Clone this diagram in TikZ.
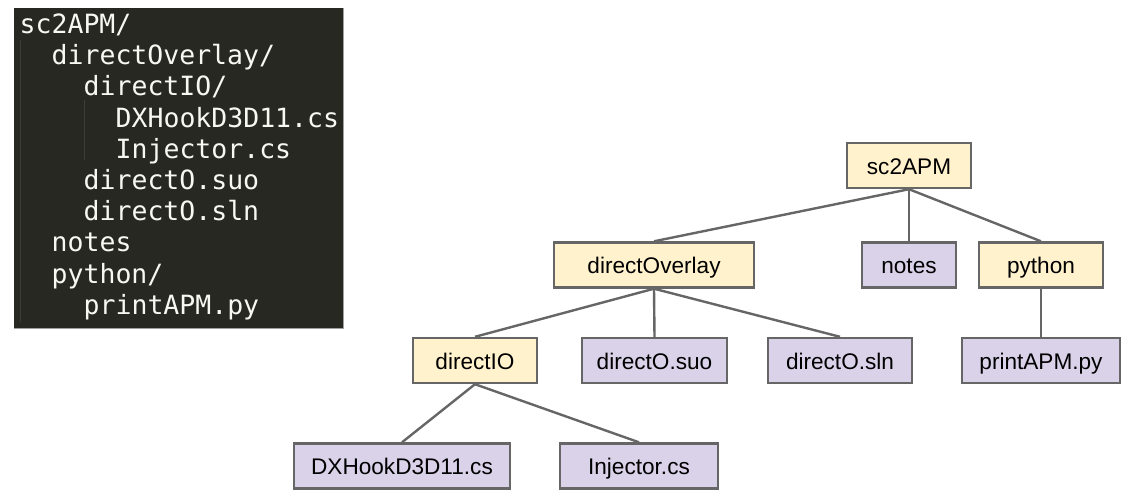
\documentclass[tikz,border=0pt]{standalone}
\usepackage{fontspec}
\setmainfont{Liberation Sans}
\newfontfamily\codefont{DejaVu Sans Mono}
\definecolor{monobg}{HTML}{272822}
\definecolor{monofg}{HTML}{F8F8F2}
\definecolor{guidecol}{HTML}{3E3D35}
\definecolor{panelrim}{HTML}{A0A0A0}
\definecolor{dirfill}{HTML}{FFF2CC}
\definecolor{filefill}{HTML}{D9D2E9}
\definecolor{edgecol}{HTML}{666666}
\begin{document}
\begin{tikzpicture}[x=1pt,y=-1pt,
  box/.style={draw=edgecol, line width=2.4pt, inner sep=0pt, minimum height=45pt,
    text height=20pt, text depth=3pt, font=\fontsize{22.6}{26}\selectfont, text=black},
  dirbox/.style={box, fill=dirfill},
  filebox/.style={box, fill=filefill},
  link/.style={draw=edgecol, line width=2.4pt},
  codeline/.style={anchor=base west, inner sep=0pt, text=monofg,
    font=\codefont\fontsize{26.5}{31}\selectfont},
]
\useasboundingbox (0,0) rectangle (1136,496);

% code panel
\fill[monobg] (14,8) rectangle (343,328);
\draw[panelrim, line width=1pt] (343,8) -- (343,328) -- (14,328);
\draw[guidecol, line width=1pt] (20.5,40) -- (20.5,322);
\draw[guidecol, line width=1pt] (84.5,100) -- (84.5,160);

\node[codeline] (c0) at (19.5,33.5) {sc2APM/};
\node[codeline] (c1) at (51.5,64.7) {directOverlay/};
\node[codeline] (c2) at (83.5,95.9) {directIO/};
\node[codeline] (c3) at (115.5,127.1) {DXHookD3D11.cs};
\node[codeline] (c4) at (115.5,158.3) {Injector.cs};
\node[codeline] (c5) at (83.5,189.5) {directO.suo};
\node[codeline] (c6) at (83.5,220.7) {directO.sln};
\node[codeline] (c7) at (51.5,251.9) {notes};
\node[codeline] (c8) at (51.5,283.1) {python/};
\node[codeline] (c9) at (83.5,314.3) {printAPM.py};

% tree
\node[dirbox, minimum width=123.6pt] (root) at (909,165.5) {sc2APM};
\node[dirbox, minimum width=199.6pt] (overlay) at (654,265) {directOverlay};
\node[filebox, minimum width=93.6pt] (notes) at (909,265) {notes};
\node[dirbox, minimum width=123.6pt] (python) at (1041,265) {python};
\node[dirbox, minimum width=123.6pt] (dio) at (475,360.5) {directIO};
\node[filebox, minimum width=144.6pt] (suo) at (654.5,360.5) {directO.suo};
\node[filebox, minimum width=143.6pt] (sln) at (840,360.5) {directO.sln};
\node[filebox, minimum width=157.6pt] (printapm) at (1041,360.5) {printAPM.py};
\node[filebox, minimum width=215.6pt] (dxhook) at (402,466) {DXHookD3D11.cs};
\node[filebox, minimum width=157.6pt] (injector) at (639,466) {Injector.cs};

\draw[link] (root.south) -- (overlay.north);
\draw[link] (root.south) -- (notes.north);
\draw[link] (root.south) -- (python.north);
\draw[link] (overlay.south) -- (dio.north);
\draw[link] (overlay.south) -- (suo.north);
\draw[link] (overlay.south) -- (sln.north);
\draw[link] (python.south) -- (printapm.north);
\draw[link] (dio.south) -- (dxhook.north);
\draw[link] (dio.south) -- (injector.north);
\end{tikzpicture}
\end{document}
